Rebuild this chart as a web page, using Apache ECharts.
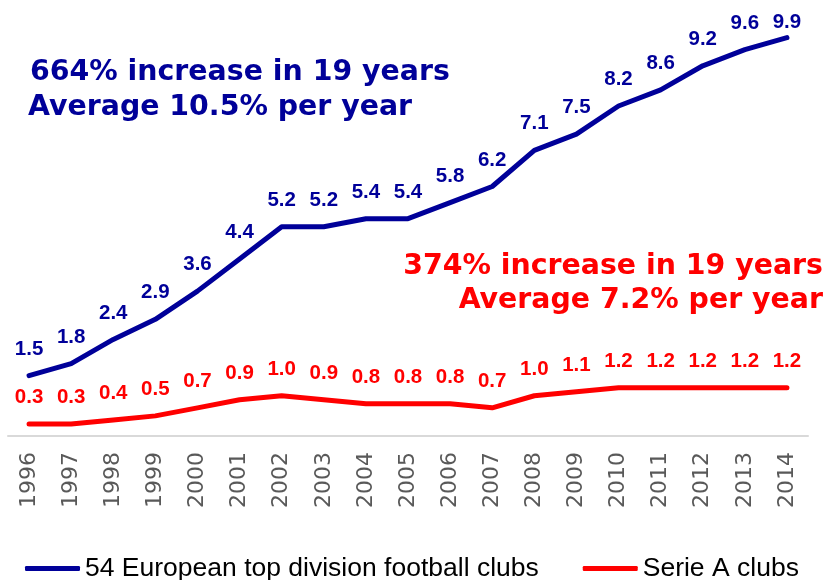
<!DOCTYPE html>
<html>
<head>
<meta charset="utf-8">
<script src="https://cdn.jsdelivr.net/npm/echarts@6/dist/echarts.min.js"></script>
<style>
html,body{margin:0;padding:0;background:#fff;}
#chart{width:827px;height:580px;}
</style>
</head>
<body>
<div id="chart"></div>
<script>
const years = ['1996','1997','1998','1999','2000','2001','2002','2003','2004','2005','2006','2007','2008','2009','2010','2011','2012','2013','2014'];
const europeRevenue = [1.5,1.8,2.4,2.9,3.6,4.4,5.2,5.2,5.4,5.4,5.8,6.2,7.1,7.5,8.2,8.6,9.2,9.6,9.9];
const serieARevenue = [0.3,0.3,0.4,0.5,0.7,0.9,1.0,0.9,0.8,0.8,0.8,0.7,1.0,1.1,1.2,1.2,1.2,1.2,1.2];
const seriesNames = ['54 European top division football clubs','Serie A clubs'];
const europeNote = ['664% increase in 19 years','Average 10.5% per year'];
const serieANote = ['374% increase in 19 years','Average 7.2% per year'];

const BLUE = '#000099';
const RED = '#FF0000';

const chart = echarts.init(document.getElementById('chart'), null, {renderer:'canvas'});

const labelStyle = (color) => ({
  show: true,
  position: 'top',
  distance: 16,
  color: color,
  fontFamily: 'Liberation Sans, Arial, sans-serif',
  fontWeight: 'bold',
  fontSize: 20.5,
  formatter: (p) => Number(p.value).toFixed(1)
});

const europeData = europeRevenue.map((v, i) =>
  i === europeRevenue.length - 1 ? {value: v, label: {distance: 5}} : v);

const noteFont = 'bold 28.4px "DejaVu Sans", sans-serif';
const noteText = (text, x, y, color, align) => ({
  type: 'text', x: x, y: y, z: 10,
  style: {text: text, fill: color, font: noteFont, textAlign: align, textVerticalAlign: 'middle', align: align, verticalAlign: 'middle'}
});

chart.setOption({
  animation: false,
  backgroundColor: '#fff',
  grid: {left: 8, right: 19, top: 33.6, bottom: 144, containLabel: false},
  xAxis: {
    type: 'category',
    data: years,
    boundaryGap: true,
    axisLine: {show: true, lineStyle: {color: '#D9D9D9', width: 2}},
    axisTick: {show: false},
    axisLabel: {
      rotate: 90,
      margin: 16,
      interval: 0,
      color: '#595959',
      fontFamily: 'DejaVu Sans, sans-serif',
      fontSize: 22
    }
  },
  yAxis: {
    type: 'value',
    min: 0,
    max: 10,
    show: false,
    splitLine: {show: false}
  },
  legend: {
    left: 25,
    top: 555,
    padding: 0,
    itemWidth: 55,
    itemHeight: 5,
    itemGap: 44,
    icon: 'roundRect',
    textStyle: {fontFamily: 'Liberation Sans, Arial, sans-serif', fontSize: 26.5, color: '#000'},
    data: seriesNames
  },
  series: [
    {
      name: seriesNames[0],
      type: 'line',
      data: europeData,
      symbol: 'circle',
      symbolSize: 0,
      showSymbol: true,
      lineStyle: {color: BLUE, width: 5, cap: 'round', join: 'round'},
      itemStyle: {color: BLUE},
      label: labelStyle(BLUE),
      labelLayout: {hideOverlap: false},
      z: 3
    },
    {
      name: seriesNames[1],
      type: 'line',
      data: serieARevenue,
      symbol: 'circle',
      symbolSize: 0,
      showSymbol: true,
      lineStyle: {color: RED, width: 5, cap: 'round', join: 'round'},
      itemStyle: {color: RED},
      label: labelStyle(RED),
      labelLayout: {hideOverlap: false},
      z: 2
    }
  ],
  graphic: [
    noteText(europeNote[0], 30, 73, BLUE, 'left'),
    noteText(europeNote[1], 28, 108, BLUE, 'left'),
    noteText(serieANote[0], 823, 267, RED, 'right'),
    noteText(serieANote[1], 823, 301, RED, 'right')
  ]
});
</script>
</body>
</html>
